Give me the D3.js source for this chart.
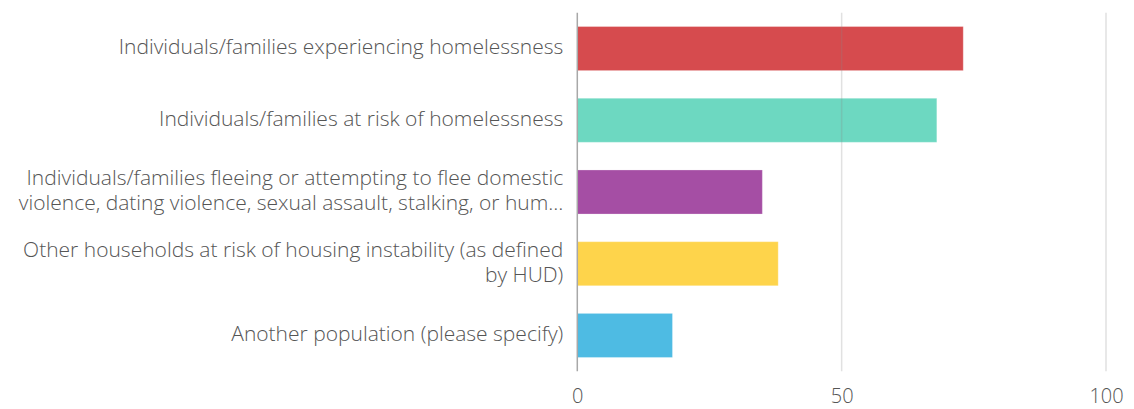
<!DOCTYPE html>
<html>
<head>
<meta charset="utf-8">
<script src="https://cdn.jsdelivr.net/npm/d3@7"></script>
<style>
  html, body { margin: 0; padding: 0; background: #fff; }
  svg { display: block; }
  text { font-family: "Open Sans", "Noto Sans", sans-serif; fill: #555; font-weight: 300; }
</style>
</head>
<body>
<svg id="chart" width="1134" height="409"></svg>
<script>
// Target populations served (share of responses, %)
const categories = [
  ["Individuals/families experiencing homelessness"],
  ["Individuals/families at risk of homelessness"],
  ["Individuals/families fleeing or attempting to flee domestic",
   "violence, dating violence, sexual assault, stalking, or hum\u2026"],
  ["Other households at risk of housing instability (as defined",
   "by HUD)"],
  ["Another population (please specify)"]
];
const values = [73, 68, 35, 38, 18];
const colors = ["#d64b4e", "#6dd8c1", "#a54ea4", "#fed44b", "#4ebbe3"];
const tickValues = [0, 50, 100];

const svg = d3.select("#chart");
const plot = { left: 577.3, right: 1106, top: 12.7, bottom: 371.3 };

const x = d3.scaleLinear().domain([0, 100]).range([plot.left, plot.right]);
const y = d3.scaleBand()
  .domain(d3.range(categories.length))
  .range([plot.top, plot.bottom])
  .paddingInner(0.386)
  .paddingOuter(0.193);

// Bars
svg.append("g")
  .selectAll("rect")
  .data(values)
  .join("rect")
  .attr("x", x(0))
  .attr("y", (d, i) => y(i))
  .attr("width", d => x(d) - x(0))
  .attr("height", y.bandwidth())
  .attr("fill", (d, i) => colors[i])
  .attr("stroke", "#fff")
  .attr("stroke-opacity", 0.25)
  .attr("stroke-width", 1);

// Vertical grid lines (drawn over the bars, faint)
svg.append("g")
  .selectAll("line")
  .data(tickValues.filter(t => t !== 0))
  .join("line")
  .attr("x1", d => x(d)).attr("x2", d => x(d))
  .attr("y1", plot.top).attr("y2", plot.bottom)
  .attr("stroke", "#888")
  .attr("stroke-opacity", 0.25)
  .attr("stroke-width", 1.5);

// Baseline at zero
svg.append("line")
  .attr("x1", x(0)).attr("x2", x(0))
  .attr("y1", plot.top).attr("y2", plot.bottom)
  .attr("stroke", "#a8a8a8")
  .attr("stroke-width", 1.5);

// Bottom axis labels
const xAxis = d3.axisBottom(x).tickValues(tickValues).tickSize(0).tickPadding(0);
const gx = svg.append("g")
  .attr("transform", `translate(0, ${plot.bottom + 32})`)
  .call(xAxis);
gx.select(".domain").remove();
gx.selectAll("text")
  .attr("font-size", 20)
  .style("font-family", "'Open Sans', 'Noto Sans', sans-serif")
  .style("font-weight", 300)
  .attr("fill", "#555")
  .attr("dy", "0");

// Category labels, right-aligned next to the baseline
const lineH = 25;
const labels = svg.append("g");
categories.forEach((lines, i) => {
  const cy = y(i) + y.bandwidth() / 2;
  const t = labels.append("text")
    .attr("text-anchor", "end")
    .attr("font-size", 21)
    .attr("x", plot.left - 14)
    .attr("y", cy - (lines.length - 1) * lineH / 2);
  lines.forEach((ln, j) => {
    t.append("tspan")
      .attr("x", plot.left - 14)
      .attr("dy", j === 0 ? "0.28em" : lineH)
      .text(ln);
  });
});
</script>
</body>
</html>
